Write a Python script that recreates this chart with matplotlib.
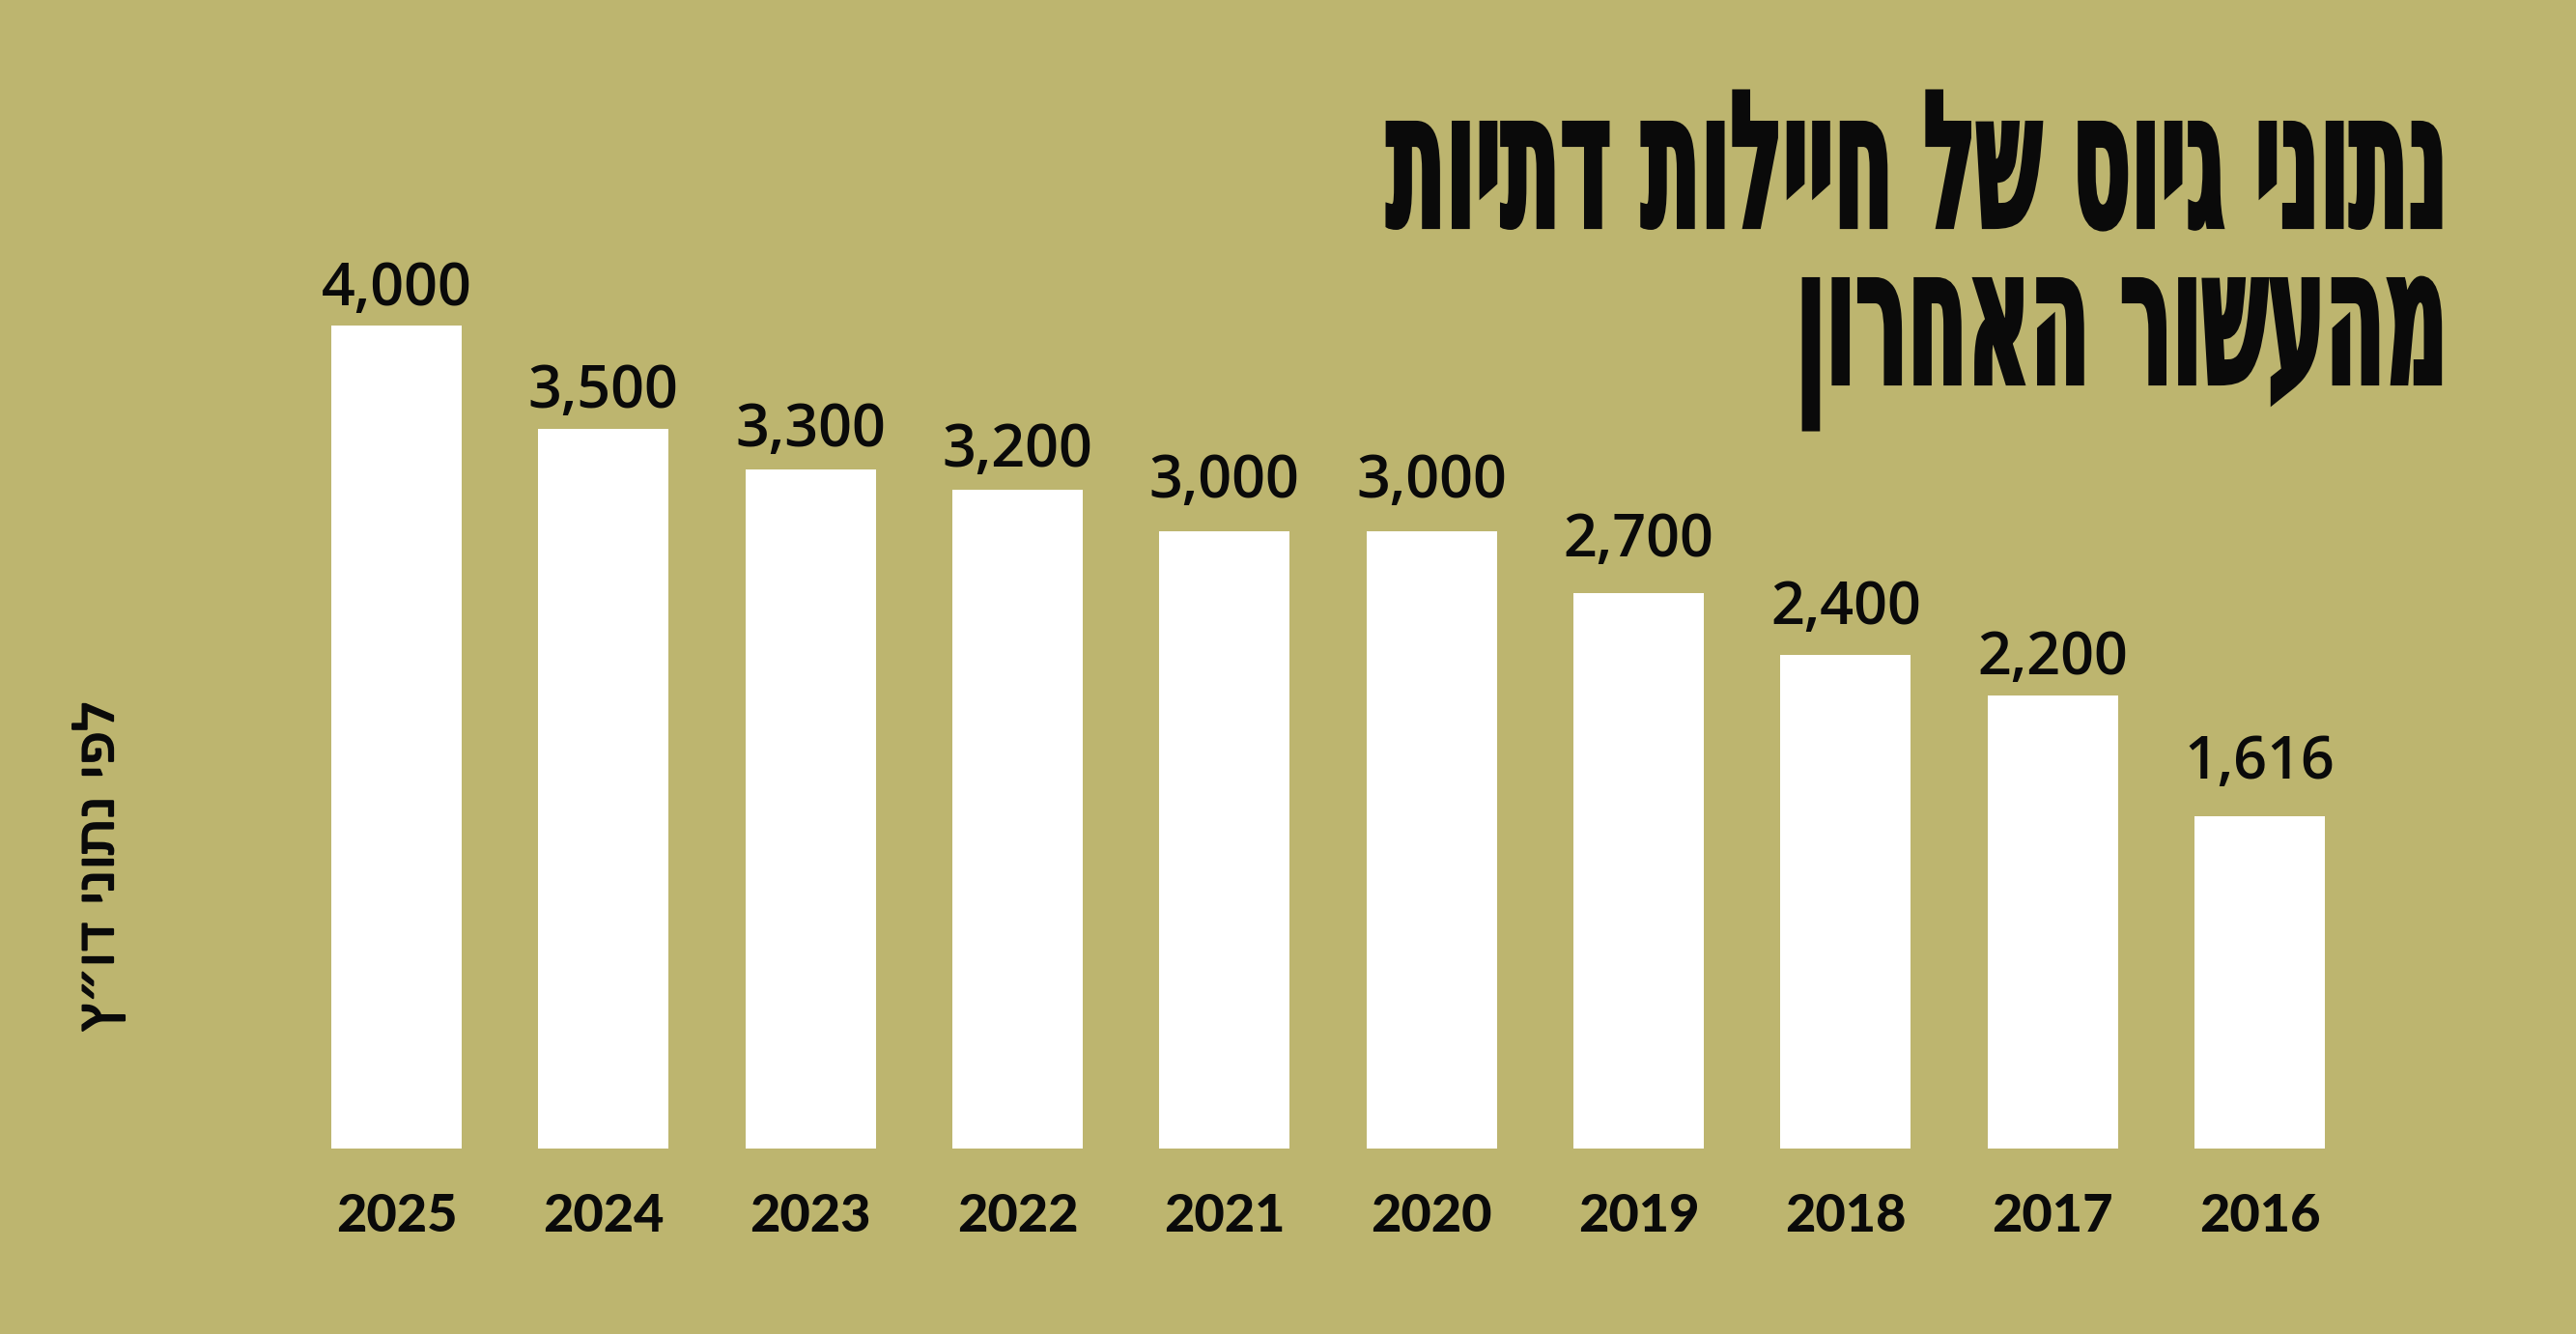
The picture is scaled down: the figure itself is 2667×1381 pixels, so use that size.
import matplotlib
matplotlib.use("Agg")
import matplotlib.pyplot as plt
from matplotlib import font_manager as fm
from matplotlib import patheffects as pe
from matplotlib.ft2font import FT2Font
from matplotlib.textpath import TextPath
from matplotlib.patheffects import AbstractPathEffect
from matplotlib.transforms import Affine2D

# ---------------- data ----------------
years = ["2025", "2024", "2023", "2022", "2021", "2020", "2019", "2018", "2017", "2016"]
values = [4000, 3500, 3300, 3200, 3000, 3000, 2700, 2400, 2200, 1616]
title_lines = ["נתוני גיוס של חיילות דתיות", "מהעשור האחרון"]
source_text = "לפי נתוני דו״ץ"

# ---------------- style ----------------
W, H, DPI = 2667, 1381, 100
BG = "#BDB56F"
INK = "#0A0A0A"
BAR = "#FFFFFF"
# gap (px) between each value label's baseline and its bar top, as placed in the reference
label_gap_px = [21, 22, 24, 24, 35, 35, 38, 32, 22, 39]


def vis(s):
    """matplotlib lays glyphs out left-to-right: reverse Hebrew for visual order."""
    return s[::-1]


def font_path(family, weight="normal"):
    try:
        return fm.findfont(fm.FontProperties(family=family, weight=weight),
                           fallback_to_default=False)
    except Exception:
        return fm.findfont(fm.FontProperties(family="DejaVu Sans", weight=weight))


def has_chars(path, chars):
    cmap = FT2Font(path).get_charmap()
    return all(ord(c) in cmap for c in chars)


class Tall(AbstractPathEffect):
    """Stretch glyphs vertically about their baseline (display y0), emboldened by a stroke."""

    def __init__(self, sy, y0, stroke_pt=0.0, color=INK):
        super().__init__()
        self.sy, self.y0, self.stroke_pt, self.color = sy, y0, stroke_pt, color

    def draw_path(self, renderer, gc, tpath, affine, rgbFace=None):
        t = affine + Affine2D().translate(0, -self.y0).scale(1.0, self.sy).translate(0, self.y0)
        gc0 = renderer.new_gc()
        gc0.copy_properties(gc)
        gc0.set_foreground(self.color)
        gc0.set_linewidth(self.stroke_pt)
        gc0.set_joinstyle("miter")
        renderer.draw_path(gc0, tpath, t, rgbFace)
        gc0.restore()


fig = plt.figure(figsize=(W / DPI, H / DPI), dpi=DPI, facecolor=BG)

# axes: bar centres 410.5 .. 2339.5 px, baseline y=1189 px (from top), 4000 -> 852 px
step = (2339.5 - 410.5) / 9
left_px = 410.5 - 0.5 * step
width_px = 10 * step
base_px, top_px = 1189, 337
ax = fig.add_axes([left_px / W, (H - base_px) / H, width_px / W, (base_px - top_px) / H])
ax.set_facecolor("none")
ax.set_xlim(-0.5, len(years) - 0.5)
ax.set_ylim(0, 4000)
for s in ax.spines.values():
    s.set_visible(False)
ax.set_yticks([])

x = list(range(len(years)))
ax.bar(x, values, width=135 / step, color=BAR, edgecolor="none")

# value labels
val_path = font_path("Open Sans", 600)
val_fp = fm.FontProperties(fname=val_path, size=44)
for i, v in enumerate(values):
    ax.annotate(f"{v:,}", xy=(i, v), xytext=(0, label_gap_px[i] * 72 / DPI),
                textcoords="offset points", ha="center", va="baseline",
                fontproperties=val_fp, color=INK)

# year labels as x tick labels
year_fp = fm.FontProperties(fname=font_path("Lato", 900), size=39)
ax.set_xticks(x, labels=years)
ax.tick_params(axis="x", length=0, pad=(1275 - base_px) * 72 / DPI)
for lbl in ax.get_xticklabels():
    lbl.set_fontproperties(year_fp)
    lbl.set_verticalalignment("baseline")
    lbl.set_color(INK)

# ---------------- title (tall, narrow, heavy Hebrew) ----------------
heb_chars = "".join(set("".join(title_lines).replace(" ", "")))
tpath = font_path("DejaVu Sans", "bold")
if not has_chars(tpath, heb_chars):
    for fam in ["Liberation Sans", "Open Sans", "DejaVu Sans"]:
        p = font_path(fam, "bold")
        if has_chars(p, heb_chars):
            tpath = p
            break
probe = fm.FontProperties(fname=tpath)
stroke_pt = 3.0
stroke_px = stroke_pt * DPI / 72
h_em = TextPath((0, 0), "ת", size=100, prop=probe).get_extents().height / 100
w_em = TextPath((0, 0), vis(title_lines[0]), size=100, prop=probe).get_extents().width / 100
size_px = (1094 - stroke_px) / w_em          # font size that gives the reference width
sy = (113 - stroke_px) / (h_em * size_px)    # vertical stretch that gives the reference height
title_fp = fm.FontProperties(fname=tpath, size=size_px * 72 / DPI)
right_px = 2536 - stroke_px / 2
for line, base in zip(title_lines, [235, 397]):
    fig.text(right_px / W, (H - base) / H, vis(line), fontproperties=title_fp,
             ha="right", va="baseline", color=INK,
             path_effects=[Tall(sy, H - base, stroke_pt, INK)])

# ---------------- vertical source note ----------------
spath = font_path("DejaVu Sans", "normal")
src = source_text
if not has_chars(spath, "״"):
    src = src.replace("״", '"')
s_probe = fm.FontProperties(fname=spath)
s_w_em = TextPath((0, 0), vis(src), size=100, prop=s_probe).get_extents().width / 100
s_size_px = 338 / s_w_em
src_fp = fm.FontProperties(fname=spath, size=s_size_px * 72 / DPI)
fig.text(117 / W, (H - 897) / H, vis(src), fontproperties=src_fp, rotation=90,
         rotation_mode="anchor", ha="center", va="baseline", color=INK,
         path_effects=[pe.withStroke(linewidth=1.6, foreground=INK)])

fig.savefig("out.png", dpi=DPI, facecolor=BG)
